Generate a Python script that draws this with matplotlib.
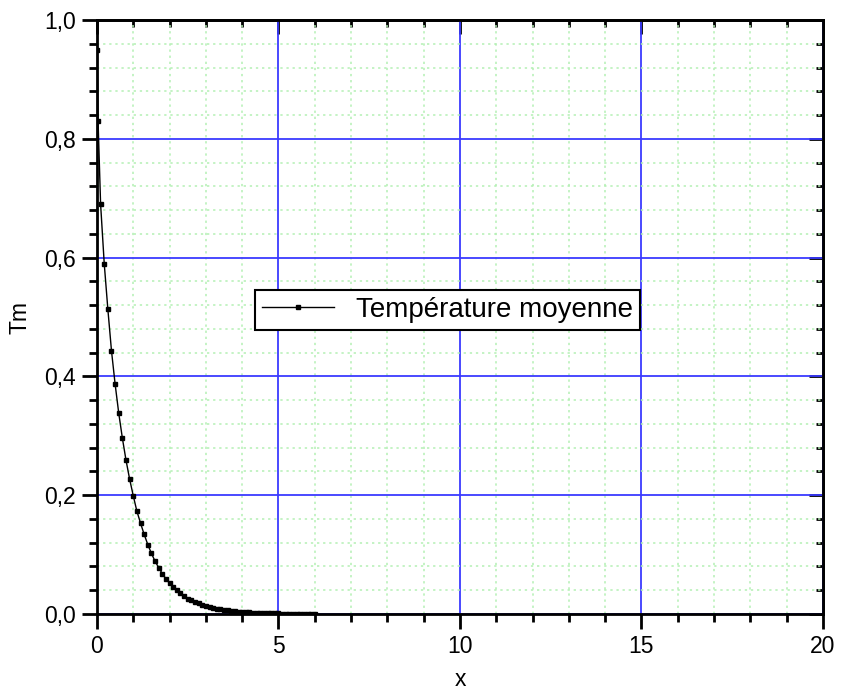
import matplotlib
matplotlib.use('Agg')
import matplotlib.pyplot as plt
from matplotlib.ticker import MultipleLocator, FuncFormatter

plt.rcParams['font.family'] = ['Liberation Sans', 'DejaVu Sans']

# Données
x = [0.0, 0.03, 0.1, 0.2, 0.3, 0.4, 0.5, 0.6, 0.7, 0.8, 0.9, 1.0,
     1.1, 1.2, 1.3, 1.4, 1.5, 1.6, 1.7, 1.8, 1.9, 2.0,
     2.1, 2.2, 2.3, 2.4, 2.5, 2.6, 2.7, 2.8, 2.9, 3.0,
     3.1, 3.2, 3.3, 3.4, 3.5, 3.6, 3.7, 3.8, 3.9, 4.0,
     4.1, 4.2, 4.3, 4.4, 4.5, 4.6, 4.7, 4.8, 4.9, 5.0,
     5.1, 5.2, 5.3, 5.4, 5.5, 5.6, 5.7, 5.8, 5.9, 6.0]
tm = [0.95, 0.83, 0.69, 0.59, 0.513, 0.443, 0.387, 0.338, 0.296, 0.259, 0.227, 0.199,
      0.173, 0.153, 0.134, 0.117, 0.102, 0.089, 0.078, 0.068, 0.059, 0.052,
      0.045, 0.040, 0.035, 0.030, 0.026, 0.023, 0.020, 0.018, 0.015, 0.013,
      0.012, 0.010, 0.009, 0.008, 0.007, 0.006, 0.005, 0.0045, 0.004, 0.0035,
      0.003, 0.0026, 0.0023, 0.002, 0.0017, 0.0015, 0.0013, 0.0011, 0.001, 0.0009,
      0.0008, 0.0007, 0.0006, 0.0005, 0.0005, 0.0004, 0.0004, 0.0003, 0.0003, 0.0003]
label = 'Température moyenne'

fig = plt.figure(figsize=(8.41, 6.92), dpi=100)
ax = fig.add_axes([0.1153, 0.1127, 0.8633, 0.8584])

ax.plot(x, tm, color='black', linewidth=1.0, marker='s', markersize=2.2,
        label=label, zorder=3)

ax.set_xlim(0, 20)
ax.set_ylim(0, 1.0)
ax.xaxis.set_major_locator(MultipleLocator(5))
ax.xaxis.set_minor_locator(MultipleLocator(1))
ax.yaxis.set_major_locator(MultipleLocator(0.2))
ax.yaxis.set_minor_locator(MultipleLocator(0.04))
ax.yaxis.set_major_formatter(FuncFormatter(lambda v, p: ('%.1f' % v).replace('.', ',')))

ax.set_axisbelow(True)
ax.grid(which='major', color='#3a3aff', linewidth=1.3)
ax.grid(which='minor', color='#b4f0b4', linewidth=1.1, linestyle=(0, (1.5, 2.5)))

for s in ax.spines.values():
    s.set_linewidth(2)
ax.tick_params(which='major', direction='out', length=11, width=2, labelsize=16.5, pad=4)
ax.tick_params(which='minor', direction='out', length=6, width=2)

top = ax.secondary_xaxis('top')
top.xaxis.set_major_locator(MultipleLocator(5))
top.xaxis.set_minor_locator(MultipleLocator(1))
top.tick_params(which='major', direction='in', length=10, width=2, labeltop=False)
top.tick_params(which='minor', direction='in', length=5, width=2)
top.spines['top'].set_linewidth(2)

right = ax.secondary_yaxis('right')
right.yaxis.set_major_locator(MultipleLocator(0.2))
right.yaxis.set_minor_locator(MultipleLocator(0.04))
right.tick_params(which='major', direction='in', length=10, width=2, labelright=False)
right.tick_params(which='minor', direction='in', length=5, width=2)
right.spines['right'].set_linewidth(2)

ax.set_xlabel('x', fontsize=16.5, labelpad=7)
ax.set_ylabel('Tm', fontsize=16.5, labelpad=9)

leg = ax.legend(loc='center', bbox_to_anchor=(0.483, 0.512), fontsize=20,
                fancybox=False, framealpha=1, edgecolor='black',
                handlelength=2.6, borderpad=0.25, borderaxespad=0,
                markerscale=1.0)
leg.get_frame().set_linewidth(1.5)

fig.savefig('out.png', dpi=100)
